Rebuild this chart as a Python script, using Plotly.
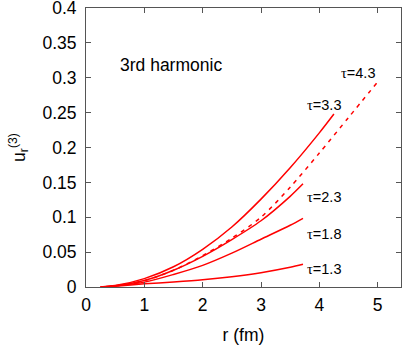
import plotly.graph_objects as go

r13 = [0.25, 0.5, 1.0, 1.5, 2.0, 2.5, 3.0, 3.5, 3.72]
u13 = [0.0, 0.0012, 0.0045, 0.0072, 0.0104, 0.0148, 0.0205, 0.0282, 0.0325]

r18 = [0.25, 0.5, 1.0, 1.5, 2.0, 2.5, 3.0, 3.5, 3.72]
u18 = [0.0, 0.0015, 0.007, 0.018, 0.031, 0.0485, 0.0685, 0.0885, 0.0985]

r23 = [0.25, 0.5, 1.0, 1.5, 2.0, 2.5, 3.0, 3.5, 3.72]
u23 = [0.0, 0.0018, 0.0093, 0.024, 0.044, 0.068, 0.095, 0.13, 0.148]

r33 = [0.25, 0.5, 1.0, 1.5, 2.0, 2.5, 3.0, 3.5, 4.0, 4.25]
u33 = [0.0, 0.002, 0.012, 0.029, 0.054, 0.086, 0.126, 0.171, 0.221, 0.248]

r43 = [0.25, 0.5, 1.0, 1.5, 2.0, 2.5, 3.0, 3.5, 4.0, 4.5, 5.0]
u43 = [0.0, 0.0015, 0.009, 0.024, 0.045, 0.07, 0.1, 0.143, 0.192, 0.243, 0.294]

labels = ["τ=1.3", "τ=1.8", "τ=2.3", "τ=3.3", "τ=4.3"]
label_pos = [(3.76, 0.026, "left"), (3.76, 0.0755, "left"), (3.76, 0.129, "left"),
             (3.76, 0.261, "left"), (4.98, 0.307, "right")]

yticks = [0, 0.05, 0.1, 0.15, 0.2, 0.25, 0.3, 0.35, 0.4]
yticktext = ["0", "0.05", "0.1", "0.15", "0.2", "0.25", "0.3", "0.35", "0.4"]
xticks = [0, 1, 2, 3, 4, 5]

FONT = "Liberation Sans, Arial, sans-serif"
FS = 17.5

fig = go.Figure()
series = [(r13, u13, "solid"), (r18, u18, "solid"), (r23, u23, "solid"),
          (r33, u33, "solid"), (r43, u43, "4px,5px")]
for (x, y, d), name in zip(series, labels):
    fig.add_trace(go.Scatter(x=x, y=y, mode="lines", name=name, line_shape="spline",
                             line=dict(color="#ff0000", width=1.5, dash=d, smoothing=0.8),
                             showlegend=False))

for name, (x, y, a) in zip(labels, label_pos):
    txt = "<span style='font-family:Liberation Serif'>τ</span>" + name[1:]
    fig.add_annotation(x=x, y=y, text=txt, showarrow=False, xanchor=a, yanchor="middle",
                       font=dict(family=FONT, size=14.5, color="black"))

fig.add_annotation(x=0.54, y=0.318, text="3rd harmonic", showarrow=False, xanchor="left",
                   yanchor="middle", font=dict(family=FONT, size=FS, color="black"))

axis_common = dict(showline=True, linecolor="#555555", linewidth=1, mirror="ticks",
                   ticks="inside", ticklen=5, tickcolor="#555555", showgrid=False,
                   zeroline=False, automargin=False, ticklabeloverflow="allow",
                   tickfont=dict(family=FONT, size=FS, color="black"))

fig.update_xaxes(range=[0, 5.4], tickvals=xticks, ticklabelstandoff=2,
                 title=dict(text="r (fm)", font=dict(family=FONT, size=FS, color="black"), standoff=14),
                 **axis_common)
fig.update_yaxes(range=[0, 0.4], tickvals=yticks, ticktext=yticktext, ticklabelstandoff=5,
                 title=dict(text="u<sub>r</sub><sup>(3)</sup>", font=dict(family=FONT, size=FS, color="black"), standoff=12),
                 **axis_common)

fig.update_layout(width=407, height=349, margin=dict(l=86, r=6, t=8, b=62),
                  plot_bgcolor="white", paper_bgcolor="white")

fig.write_html("out.html", config={"displayModeBar": False},
               post_script="document.body.style.margin='0';")
